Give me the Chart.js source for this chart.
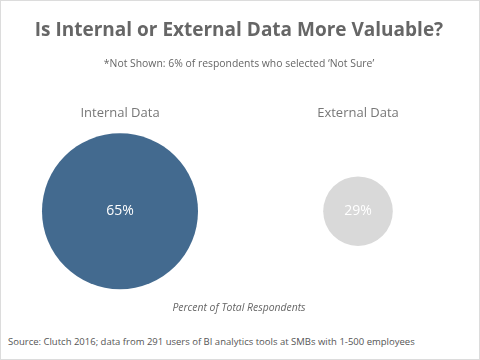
<!DOCTYPE html>
<html>
<head>
<meta charset="utf-8">
<title>Is Internal or External Data More Valuable?</title>
<script src="https://cdn.jsdelivr.net/npm/chart.js@4.4.0/dist/chart.umd.min.js"></script>
<style>
  html, body { margin: 0; padding: 0; background: #fff; }
  #wrap {
    position: relative;
    width: 480px;
    height: 360px;
    box-sizing: border-box;
    border: 1px solid #dcdcdc;
    font-family: "Open Sans", sans-serif;
  }
  #chart { position: absolute; left: 0; top: 0; }
  #source {
    position: absolute;
    left: 7px;
    top: 334px;
    font-size: 9.5px;
    color: #555;
    white-space: nowrap;
  }
</style>
</head>
<body>
<div id="wrap">
  <canvas id="chart" width="478" height="317"></canvas>
  <div id="source">Source: Clutch 2016; data from 291 users of BI analytics tools at SMBs with 1-500 employees</div>
</div>
<script>
// ─── Data ────────────────────────────────────────────────────────────
const categories = ["Internal Data", "External Data"];
const percents = [65, 29];
const bubbleColors = ["#436a8f", "#d9d9d9"];

// bubble radius in px per percentage point
const PX_PER_PCT = 1.2;

const FONT = "'Open Sans', sans-serif";

// draws the % value in the middle of each bubble
const valueLabels = {
  id: "valueLabels",
  afterDatasetsDraw(chart) {
    const { ctx } = chart;
    const meta = chart.getDatasetMeta(0);
    ctx.save();
    ctx.font = `14px ${FONT}`;
    ctx.fillStyle = "#ffffff";
    ctx.textAlign = "center";
    ctx.textBaseline = "middle";
    meta.data.forEach((el, i) => {
      ctx.fillText(`${percents[i]}%`, el.x, el.y);
    });
    ctx.restore();
  },
};

new Chart(document.getElementById("chart").getContext("2d"), {
  type: "bubble",
  data: {
    labels: categories,
    datasets: [
      {
        data: categories.map((c, i) => ({ x: c, y: 0.5, r: percents[i] * PX_PER_PCT })),
        backgroundColor: bubbleColors,
        borderWidth: 0,
        hoverRadius: 0,
      },
    ],
  },
  options: {
    responsive: false,
    animation: false,
    clip: false,
    layout: { autoPadding: false, padding: { left: 0, right: 2, top: 0, bottom: 0 } },
    plugins: {
      legend: { display: false },
      tooltip: { enabled: false },
      title: {
        display: true,
        text: "Is Internal or External Data More Valuable?",
        color: "#666",
        font: { family: FONT, size: 19, weight: "bold" },
        padding: { top: 18, bottom: 16 },
      },
      subtitle: {
        display: true,
        text: "*Not Shown: 6% of respondents who selected \u2018Not Sure\u2019",
        color: "#666",
        font: { family: FONT, size: 10.4 },
        padding: { top: 0, bottom: 25 },
      },
    },
    scales: {
      x: {
        type: "category",
        labels: categories,
        position: "top",
        offset: true,
        grid: { display: false, drawTicks: false },
        border: { display: false },
        ticks: { color: "#777", font: { family: FONT, size: 13 }, padding: 10 },
      },
      x2: {
        type: "category",
        labels: categories,
        position: "bottom",
        offset: true,
        grid: { display: false, drawTicks: false },
        border: { display: false },
        ticks: { display: false },
        title: {
          display: true,
          text: "Percent of Total Respondents",
          color: "#666",
          font: { family: FONT, size: 10.4, style: "italic" },
          padding: { top: 10, bottom: 4 },
        },
      },
      y: {
        display: false,
        min: 0,
        max: 1,
      },
    },
  },
  plugins: [valueLabels],
});
</script>
</body>
</html>
